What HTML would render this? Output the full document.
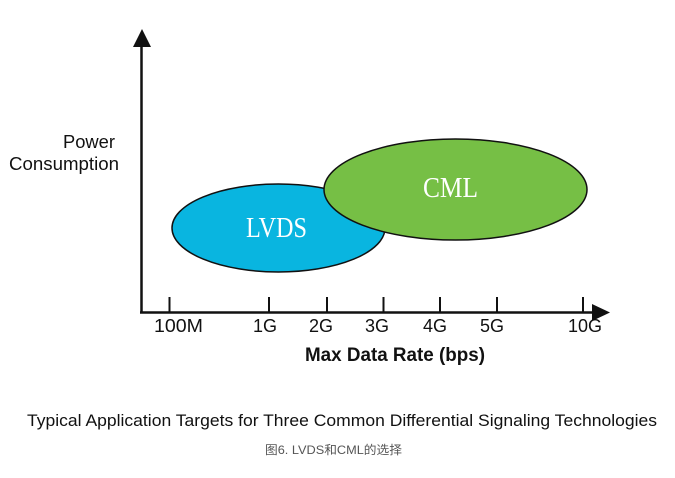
<!DOCTYPE html>
<html><head><meta charset="utf-8"><style>
html,body{margin:0;padding:0;background:#fff;}
svg{display:block;}
</style></head><body>
<svg width="675" height="478" viewBox="0 0 675 478" xmlns="http://www.w3.org/2000/svg">
<rect width="675" height="478" fill="#fff"/>
<!-- ellipses -->
<ellipse cx="278.5" cy="228" rx="106.5" ry="44" fill="#09b5e0" stroke="#111" stroke-width="1.5"/>
<ellipse cx="455.5" cy="189.5" rx="131.5" ry="50.5" fill="#76bf45" stroke="#111" stroke-width="1.5"/>
<text x="246" y="237" font-family="Liberation Serif, serif" font-size="28" fill="#fff" textLength="61" lengthAdjust="spacingAndGlyphs">LVDS</text>
<text x="423" y="197" font-family="Liberation Serif, serif" font-size="29" fill="#fff" textLength="55" lengthAdjust="spacingAndGlyphs">CML</text>
<!-- axes -->
<line x1="141.5" y1="42" x2="141.5" y2="313" stroke="#111" stroke-width="2.5"/>
<polygon points="133,47 151,47 142,29" fill="#111"/>
<line x1="140" y1="312.5" x2="596" y2="312.5" stroke="#111" stroke-width="2.5"/>
<polygon points="592,304 592,321 610,312.5" fill="#111"/>
<!-- ticks -->
<g stroke="#111" stroke-width="2">
<line x1="169.5" y1="297" x2="169.5" y2="312"/>
<line x1="269" y1="297" x2="269" y2="312"/>
<line x1="327" y1="297" x2="327" y2="312"/>
<line x1="383.5" y1="297" x2="383.5" y2="312"/>
<line x1="440" y1="297" x2="440" y2="312"/>
<line x1="497" y1="297" x2="497" y2="312"/>
<line x1="583" y1="297" x2="583" y2="312"/>
</g>
<g font-family="Liberation Sans, Arial, sans-serif" font-size="18" fill="#111">
<text x="154" y="332" textLength="49" lengthAdjust="spacingAndGlyphs">100M</text>
<text x="253" y="332">1G</text>
<text x="309" y="332">2G</text>
<text x="365" y="332">3G</text>
<text x="423" y="332">4G</text>
<text x="480" y="332">5G</text>
<text x="568" y="332">10G</text>
</g>
<text x="305" y="361" font-family="Liberation Sans, Arial, sans-serif" font-size="19" font-weight="bold" fill="#111" textLength="180" lengthAdjust="spacingAndGlyphs">Max Data Rate (bps)</text>
<g font-family="Liberation Sans, Arial, sans-serif" font-size="18" fill="#111">
<text x="63" y="148" textLength="52" lengthAdjust="spacingAndGlyphs">Power</text>
<text x="9" y="170" textLength="110" lengthAdjust="spacingAndGlyphs">Consumption</text>
</g>
<text x="27" y="426" font-family="Liberation Sans, Arial, sans-serif" font-size="17" fill="#111" textLength="630" lengthAdjust="spacingAndGlyphs">Typical Application Targets for Three Common Differential Signaling Technologies</text>
<text x="265" y="454" font-family="Liberation Sans, 'Noto Sans CJK SC', sans-serif" font-size="12" fill="#555" textLength="137" lengthAdjust="spacingAndGlyphs">图6. LVDS和CML的选择</text>
</svg>
</body></html>
